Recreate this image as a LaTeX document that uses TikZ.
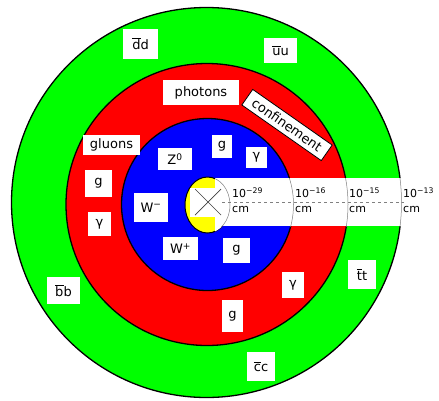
\documentclass[tikz,border=0pt]{standalone}
\usepackage{fontspec}
\setmainfont{DejaVu Sans}
\newcommand\ob[1]{$\overline{\hbox{#1}}$}
\definecolor{grn}{RGB}{0,255,0}
\definecolor{rd}{RGB}{255,0,0}
\definecolor{bl}{RGB}{0,0,255}
\definecolor{yl}{RGB}{255,255,0}
\begin{document}
\begin{tikzpicture}[x=1pt,y=-1pt,
  lab/.style={fill=white, inner sep=0pt, font=\fontsize{13}{15}\selectfont},
  ring/.style={draw=black, line width=1.3pt},
  scl/.style={inner sep=0pt, anchor=west, align=left, font=\fontsize{11}{15}\selectfont},
  thin ring/.style={draw=gray, line width=0.5pt}]
\useasboundingbox (0,0) rectangle (439,400);
% rings
\path[ring, fill=grn] (206.5,202.5) circle[radius=195];
\path[ring, fill=rd] (207,204.5) circle[radius=141];
\path[ring, fill=bl] (207.5,204.5) circle[radius=86];
\path[ring, line width=1pt, fill=yl] (207.5,205) ellipse[x radius=22.5, y radius=28];
% white parts
\fill[white] (190,188) rectangle (215,217);
\begin{scope}
  \clip (215,170) rectangle (240,240);
  \fill[white] (207.5,205) ellipse[x radius=22.5, y radius=28];
\end{scope}
\fill[white] (215,178) rectangle (439,226);
\begin{scope}
  \clip (215,178) rectangle (439,226);
  \path[thin ring] (206.5,202.5) circle[radius=195];
  \path[thin ring] (207,204.5) circle[radius=141];
  \path[thin ring] (207.5,204.5) circle[radius=86];
  \path[thin ring] (207.5,205) ellipse[x radius=22.5, y radius=28];
\end{scope}
% cross
\coordinate (xa) at (195,189);
\coordinate (xb) at (221,215);
\coordinate (xc) at (221,189);
\coordinate (xd) at (195,215);
\draw[black!75, line width=0.7pt] (xa) -- (xb);
\draw[black!75, line width=0.7pt] (xc) -- (xd);
% dashed axis
\coordinate (da) at (222,202);
\coordinate (db) at (404,202);
\draw[gray, dashed, line width=0.6pt] (da) -- (db);
% scale labels
\node[scl] (s1) at (232,200.5) {10\textsuperscript{−29}\\cm};
\node[scl] (s2) at (295,200.5) {10\textsuperscript{−16}\\cm};
\node[scl] (s3) at (349,200.5) {10\textsuperscript{−15}\\cm};
\node[scl] (s4) at (403,200.5) {10\textsuperscript{−13}\\cm};
% labels
\node[lab, minimum width=35, minimum height=30] (dd) at (140.5,43.5) {\ob{d}d};
\node[lab, minimum width=33, minimum height=25] (uu) at (280.5,50.5) {\ob{u}u};
\node[lab, minimum width=76, minimum height=25] (photons) at (201,92.5) {photons};
\node[lab, draw=black, line width=0.8pt, minimum width=97, minimum height=19, inner xsep=1pt, rotate=-35] (conf) at (287,125) {confinement};
\node[lab, minimum width=57, minimum height=20] (gluons) at (111.5,145) {gluons};
\node[lab, minimum width=27, minimum height=27] (g1) at (98.5,183.5) {g};
\node[lab, minimum width=23, minimum height=24] (gam1) at (99.5,224) {γ};
\node[lab, minimum width=34, minimum height=22] (z0) at (175,159) {Z\textsuperscript{0}};
\node[lab, minimum width=20, minimum height=23] (g2) at (222,146.5) {g};
\node[lab, minimum width=21, minimum height=21] (gam2) at (256.5,157.5) {γ};
\node[lab, minimum width=34, minimum height=29] (wm) at (151,207.5) {W\textsuperscript{−}};
\node[lab, minimum width=35, minimum height=23] (wp) at (180.5,248.5) {W\textsuperscript{+}};
\node[lab, minimum width=27, minimum height=25] (g3) at (236.5,250.5) {g};
\node[lab, minimum width=22, minimum height=26] (gam3) at (293,285) {γ};
\node[lab, minimum width=21, minimum height=32] (g4) at (232.5,316) {g};
\node[lab, minimum width=33, minimum height=27] (bb) at (63.5,290.5) {\ob{b}b};
\node[lab, minimum width=28, minimum height=29] (tt) at (362,274.5) {\ob{t}t};
\node[lab, minimum width=28, minimum height=29] (cc) at (261,366.5) {\ob{c}c};
\end{tikzpicture}
\end{document}
